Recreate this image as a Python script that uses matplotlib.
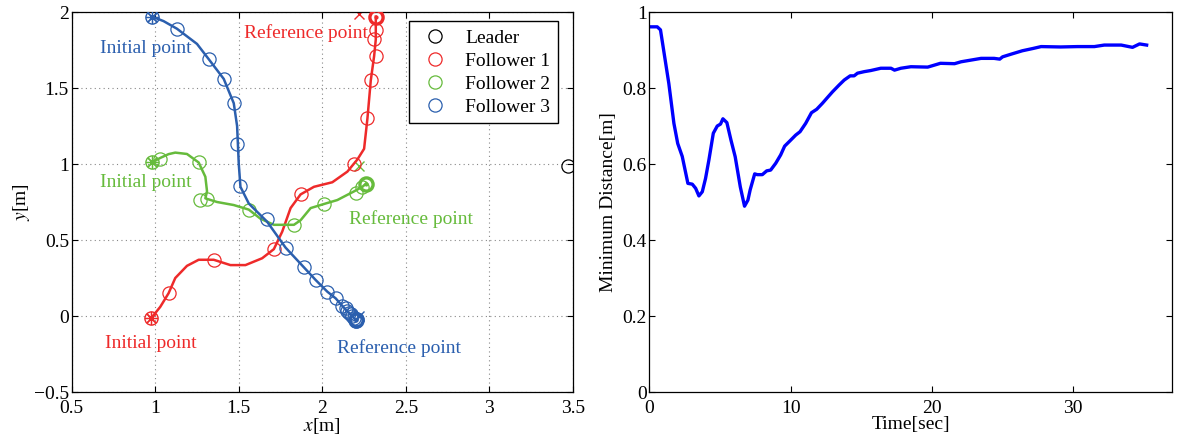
import matplotlib
matplotlib.use('Agg')
import matplotlib.pyplot as plt
from matplotlib.lines import Line2D
import numpy as np

plt.rcParams['font.family'] = ['Liberation Serif', 'DejaVu Serif']
plt.rcParams['mathtext.fontset'] = 'stix'

C_RED = '#ee2a2a'
C_GREEN = '#66bb3c'
C_BLUE = '#2b5fae'

# follower 1 (red): path and sampled positions
f1_x = [0.975, 1.03, 1.08, 1.12, 1.19, 1.26, 1.35, 1.45, 1.54, 1.64, 1.71, 1.76, 1.81, 1.87,
        1.95, 2.06, 2.15, 2.21, 2.25, 2.27, 2.29, 2.31, 2.32, 2.32, 2.32]
f1_y = [-0.015, 0.06, 0.15, 0.25, 0.33, 0.37, 0.37, 0.335, 0.335, 0.38, 0.44, 0.555, 0.71, 0.80,
        0.85, 0.88, 0.95, 1.03, 1.10, 1.30, 1.55, 1.71, 1.82, 1.90, 1.97]
f1_mx = [1.08, 1.35, 1.71, 1.87, 2.19, 2.27, 2.29, 2.32, 2.31, 2.32]
f1_my = [0.15, 0.37, 0.44, 0.80, 1.00, 1.30, 1.55, 1.71, 1.82, 1.88]

# follower 2 (green)
f2_x = [0.98, 1.03, 1.08, 1.12, 1.19, 1.26, 1.30, 1.31, 1.30, 1.37, 1.47, 1.56, 1.63, 1.71,
        1.83, 1.87, 1.93, 2.01, 2.09, 2.19, 2.24, 2.26]
f2_y = [1.01, 1.04, 1.065, 1.075, 1.066, 1.01, 0.916, 0.82, 0.774, 0.75, 0.73, 0.70, 0.64, 0.60,
        0.60, 0.63, 0.71, 0.737, 0.763, 0.82, 0.85, 0.87]
f2_mx = [1.03, 1.26, 1.27, 1.31, 1.56, 1.83, 2.01, 2.20, 2.24]
f2_my = [1.03, 1.01, 0.76, 0.77, 0.70, 0.60, 0.737, 0.81, 0.85]

# follower 3 (blue)
f3_x = [0.98, 1.05, 1.13, 1.25, 1.32, 1.41, 1.47, 1.49, 1.50, 1.51, 1.56, 1.67, 1.78, 1.89,
        1.96, 2.03, 2.08, 2.12, 2.15, 2.18, 2.20]
f3_y = [1.97, 1.94, 1.89, 1.79, 1.69, 1.56, 1.40, 1.25, 1.00, 0.85, 0.74, 0.62, 0.45, 0.32,
        0.237, 0.16, 0.116, 0.066, 0.03, 0.0, -0.026]
f3_mx = [1.13, 1.32, 1.41, 1.47, 1.49, 1.51, 1.67, 1.78, 1.89, 1.96, 2.03, 2.08, 2.12,
         2.14, 2.15, 2.16, 2.17, 2.18, 2.19, 2.20, 2.21, 2.20]
f3_my = [1.89, 1.69, 1.56, 1.40, 1.13, 0.855, 0.64, 0.45, 0.32, 0.237, 0.16, 0.116, 0.066,
         0.05, 0.03, 0.02, 0.01, 0.0, -0.01, -0.02, -0.02, -0.03]

# reference targets
ref_x = [2.22, 2.22, 2.22]
ref_y = [1.99, 0.99, 0.0]
leader_x, leader_y = 3.47, 0.985

# minimum inter-agent distance
t = [0, 0.55, 0.78, 1.37, 1.73, 2.0, 2.32, 2.72, 3.03, 3.27, 3.5, 3.74, 3.97, 4.21, 4.52,
     4.8, 5.03, 5.2, 5.48, 5.77, 6.07, 6.43, 6.73, 6.97, 7.13, 7.45, 7.64, 7.99, 8.30, 8.58,
     8.94, 9.29, 9.57, 9.95, 10.35, 10.66, 11.06, 11.47, 11.84, 12.25, 12.65, 12.96, 13.43,
     13.79, 14.21, 14.49, 14.73, 15.2, 15.67, 16.38, 17.1, 17.35, 17.8, 18.51, 19.7, 20.6,
     21.6, 22.06, 23.48, 24.4, 24.8, 25.0, 25.6, 26.4, 27.15, 27.73, 29.1, 30.3, 31.5, 32.2,
     33.4, 34.2, 34.7, 35.2]
dmin = [0.961, 0.961, 0.953, 0.812, 0.707, 0.654, 0.62, 0.549, 0.547, 0.536, 0.516, 0.527,
        0.562, 0.611, 0.681, 0.70, 0.705, 0.719, 0.709, 0.663, 0.619, 0.54, 0.489, 0.505,
        0.532, 0.574, 0.572, 0.572, 0.582, 0.584, 0.602, 0.624, 0.647, 0.661, 0.676, 0.685,
        0.707, 0.735, 0.744, 0.760, 0.777, 0.790, 0.808, 0.821, 0.832, 0.832, 0.839, 0.843,
        0.846, 0.852, 0.852, 0.847, 0.852, 0.856, 0.855, 0.865, 0.864, 0.869, 0.878, 0.878,
        0.876, 0.882, 0.889, 0.898, 0.904, 0.909, 0.908, 0.909, 0.909, 0.913, 0.913, 0.907,
        0.916, 0.913]

fig = plt.figure(figsize=(11.77, 4.43), dpi=100)
ax1 = fig.add_axes([0.0609, 0.1151, 0.4259, 0.8578])
ax2 = fig.add_axes([0.5518, 0.1151, 0.4440, 0.8578])

ms = 9.5
for px, py, mx, my, c in [(f1_x, f1_y, f1_mx, f1_my, C_RED),
                          (f2_x, f2_y, f2_mx, f2_my, C_GREEN),
                          (f3_x, f3_y, f3_mx, f3_my, C_BLUE)]:
    ax1.plot(px, py, '-', color=c, lw=1.8, zorder=3)
    ax1.plot(mx, my, 'o', mfc='none', mec=c, ms=ms, mew=0.9, zorder=3)
    # start point: circle with asterisk
    ax1.plot(px[0], py[0], 'o', mfc='none', mec=c, ms=ms, mew=1.0, zorder=4)
    ax1.plot(px[0], py[0], marker=(8, 2, 0), color=c, ms=ms, mew=0.9, zorder=4)
    # end point: bold circle
    ax1.plot(px[-1], py[-1], 'o', mfc='none', mec=c, ms=ms, mew=2.4, zorder=4)
    ax1.plot(px[-1], py[-1], '.', color=c, ms=4, zorder=4)

for rx, ry, c in zip(ref_x, ref_y, [C_RED, C_GREEN, C_BLUE]):
    ax1.plot(rx, ry, 'x', color=c, ms=7, mew=1.0, zorder=2)
ax1.plot(leader_x, leader_y, 'o', mfc='none', mec='k', ms=ms, mew=0.9)

fs = 14
ax1.text(0.67, 1.76, 'Initial point', color=C_BLUE, fontsize=fs, va='center')
ax1.text(0.67, 0.877, 'Initial point', color=C_GREEN, fontsize=fs, va='center')
ax1.text(0.70, -0.18, 'Initial point', color=C_RED, fontsize=fs, va='center')
ax1.text(1.53, 1.86, 'Reference point', color=C_RED, fontsize=fs, va='center')
ax1.text(2.16, 0.638, 'Reference point', color=C_GREEN, fontsize=fs, va='center')
ax1.text(2.09, -0.21, 'Reference point', color=C_BLUE, fontsize=fs, va='center')

ax1.set_xlim(0.5, 3.5)
ax1.set_ylim(-0.5, 2)
ax1.set_xticks(np.arange(0.5, 3.51, 0.5))
ax1.set_yticks(np.arange(-0.5, 2.01, 0.5))
ax1.set_xticklabels(['0.5', '1', '1.5', '2', '2.5', '3', '3.5'])
ax1.set_yticklabels(['\u22120.5', '0', '0.5', '1', '1.5', '2'])
ax1.grid(True, linestyle=(0, (1, 3)), color='#888888', lw=0.8)
ax1.set_xlabel(r'$x$[m]', fontsize=fs, labelpad=-1)
ax1.set_ylabel(r'$y$[m]', fontsize=fs, labelpad=1)

handles = [Line2D([], [], ls='none', marker='o', mfc='none', mec=c, ms=ms, mew=0.9)
           for c in ['k', C_RED, C_GREEN, C_BLUE]]
leg = ax1.legend(handles, ['Leader', 'Follower 1', 'Follower 2', 'Follower 3'],
                 loc='upper right', bbox_to_anchor=(0.970, 0.976), borderaxespad=0,
                 fontsize=fs, frameon=True, fancybox=False, edgecolor='k', framealpha=1,
                 borderpad=0.4, labelspacing=0.28, handletextpad=0.6, handlelength=1.9)
leg.get_frame().set_linewidth(1.0)

ax2.plot(t, dmin, color='#0000ff', lw=2.4)
ax2.set_xlim(0, 37)
ax2.set_ylim(0, 1)
ax2.set_xticks([0, 10, 20, 30])
ax2.set_yticks([0, 0.2, 0.4, 0.6, 0.8, 1])
ax2.set_yticklabels(['0', '0.2', '0.4', '0.6', '0.8', '1'])
ax2.set_xlabel('Time[sec]', fontsize=fs, labelpad=-1)
ax2.set_ylabel('Minimum Distance[m]', fontsize=fs, labelpad=4)

for ax in (ax1, ax2):
    ax.tick_params(direction='in', top=True, right=True, labelsize=fs, length=4, width=0.8, pad=2)
    ax.tick_params(axis='x', pad=6)
    for s in ax.spines.values():
        s.set_linewidth(0.9)

fig.savefig('out.png', dpi=100)
